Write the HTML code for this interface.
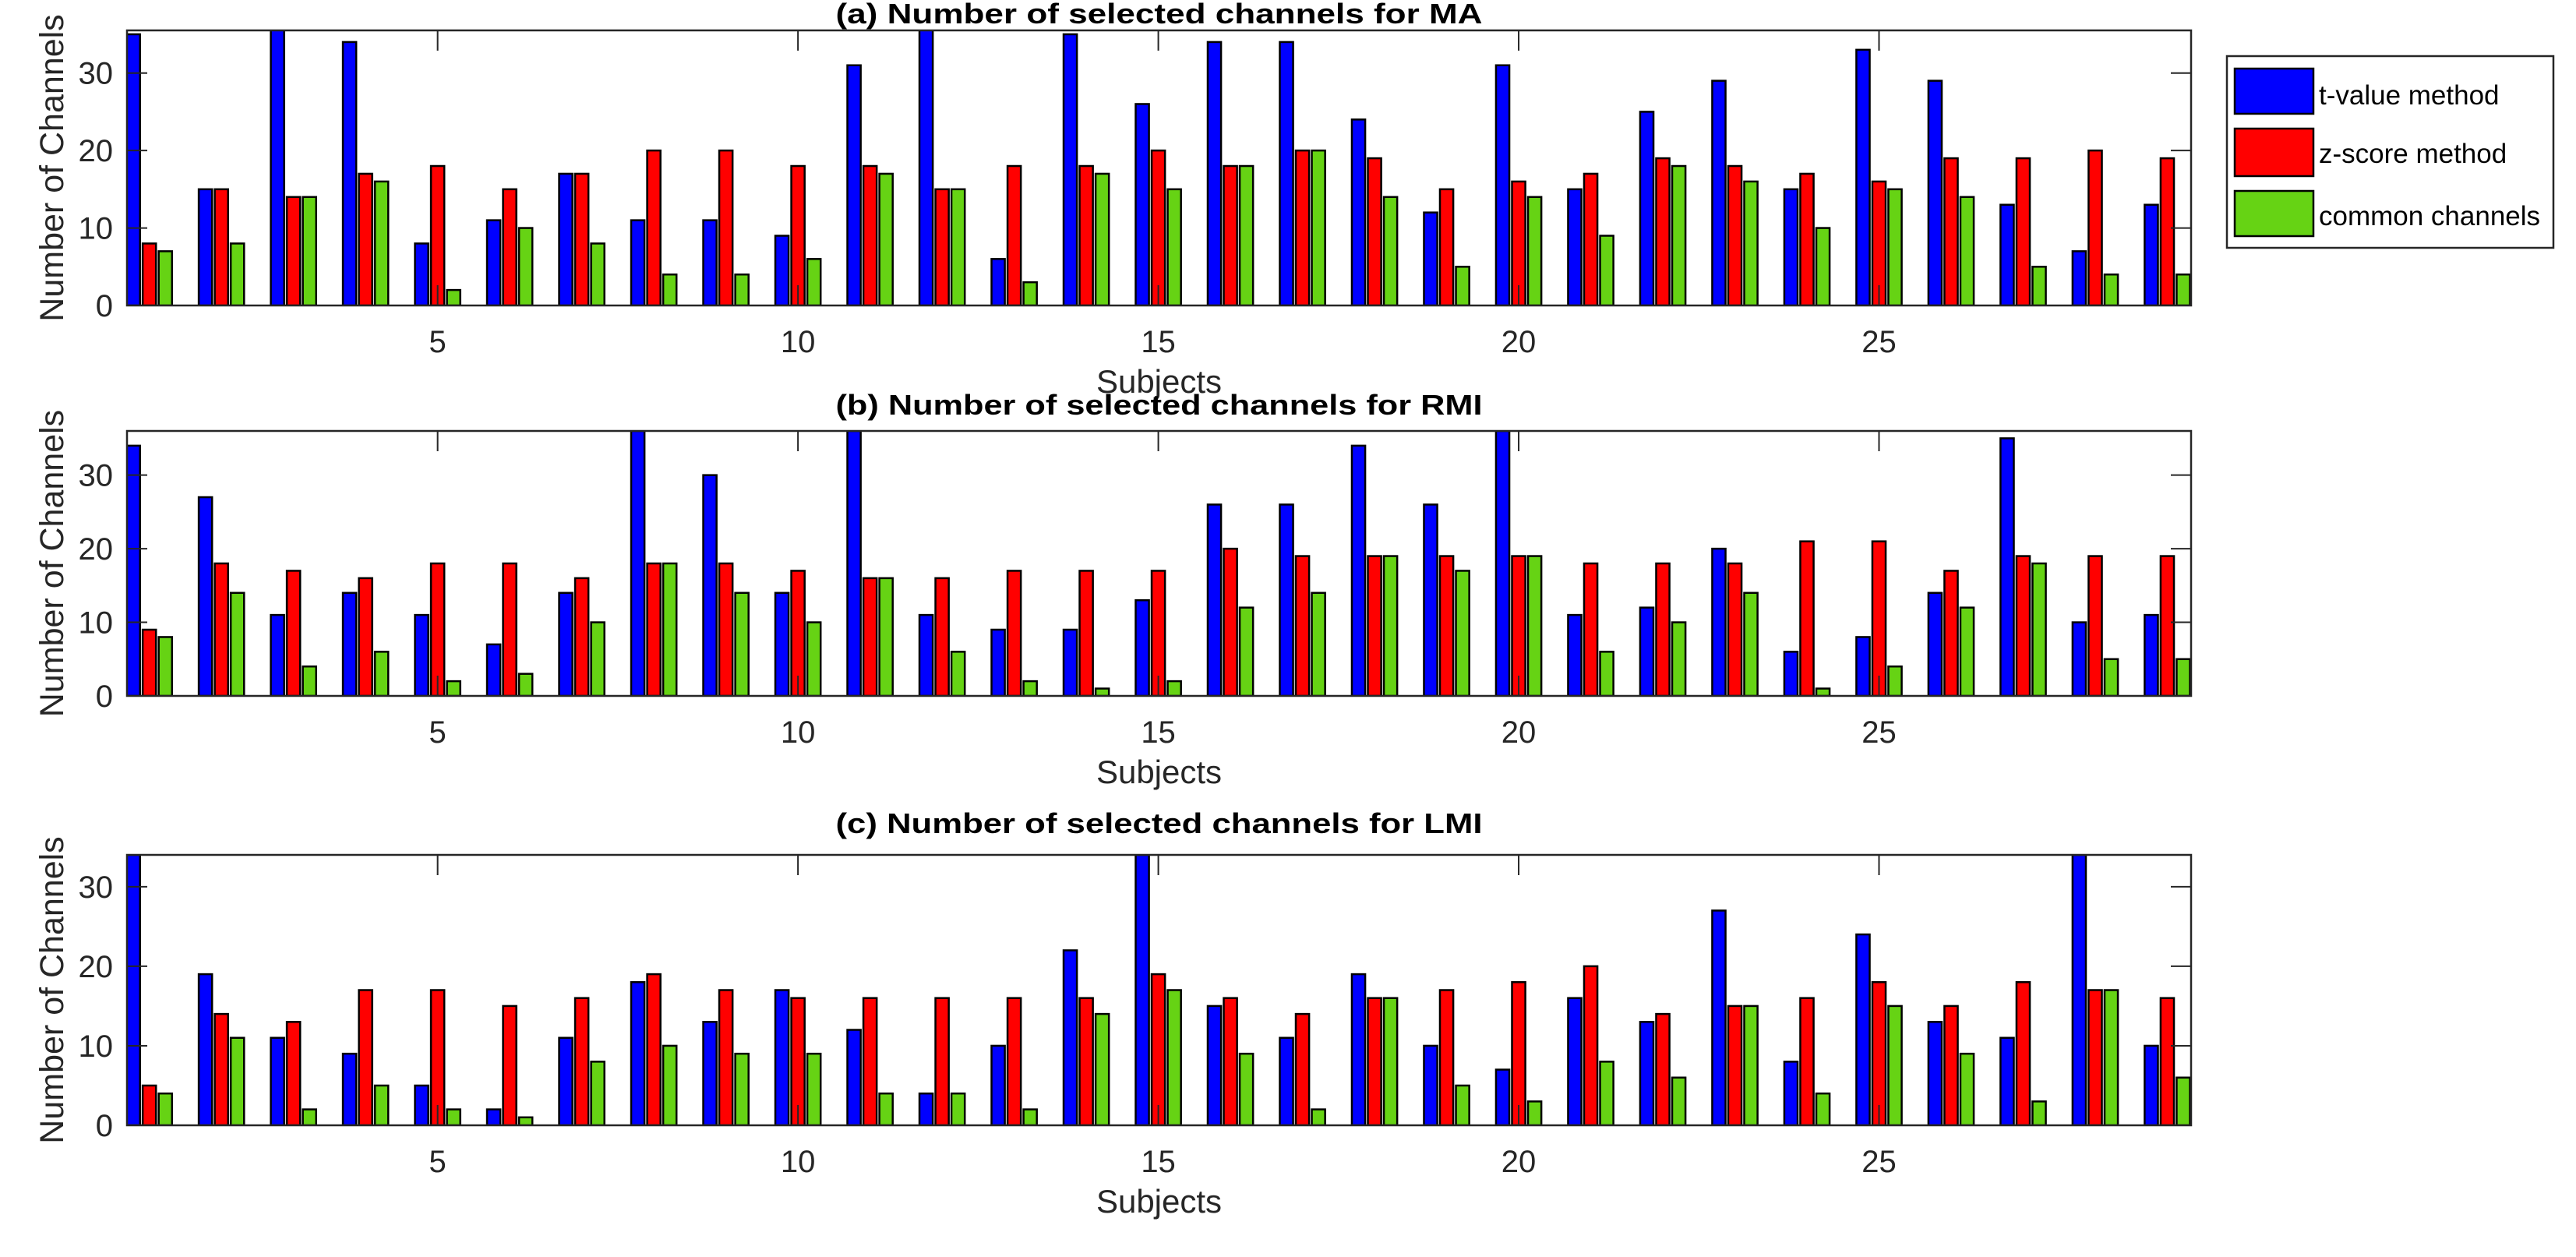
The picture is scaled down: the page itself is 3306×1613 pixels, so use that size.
<!DOCTYPE html>
<html><head><meta charset="utf-8"><style>
html,body{margin:0;padding:0;background:#fff;}
svg{display:block;font-family:"Liberation Sans",Arial,sans-serif;}
</style></head><body>
<svg id="fig" width="3306" height="1613" viewBox="0 0 3306 1613" xmlns="http://www.w3.org/2000/svg">
<rect x="0" y="0" width="3306" height="1613" fill="#fff"/>
<g id="legend">
 <rect x="2858" y="72" width="419" height="246" fill="#fff" stroke="#262626" stroke-width="2.5"/>
 <g>
  <rect x="2868" y="88" width="101" height="58" fill="#0000ff" stroke="#000" stroke-width="2.5"/>
  <text x="2976" y="134" font-size="35" fill="#000">t-value method</text>
 </g>
 <g>
  <rect x="2868" y="165" width="101" height="61" fill="#ff0000" stroke="#000" stroke-width="2.5"/>
  <text x="2976" y="209" font-size="35" fill="#000">z-score method</text>
 </g>
 <g>
  <rect x="2868" y="245" width="101" height="58" fill="#66d314" stroke="#000" stroke-width="2.5"/>
  <text x="2976" y="289" font-size="35" fill="#000">common channels</text>
 </g>
</g>
</svg>
<script>
const subjects = [1,2,3,4,5,6,7,8,9,10,11,12,13,14,15,16,17,18,19,20,21,22,23,24,25,26,27,28,29];
const maT = [35,15,36,34,8,11,17,11,11,9,31,36,6,35,26,34,34,24,12,31,15,25,29,15,33,29,13,7,13];
const maZ = [8,15,14,17,18,15,17,20,20,18,18,15,18,18,20,18,20,19,15,16,17,19,18,17,16,19,19,20,19];
const maC = [7,8,14,16,2,10,8,4,4,6,17,15,3,17,15,18,20,14,5,14,9,18,16,10,15,14,5,4,4];
const rmiT = [34,27,11,14,11,7,14,36,30,14,36,11,9,9,13,26,26,34,26,36,11,12,20,6,8,14,35,10,11];
const rmiZ = [9,18,17,16,18,18,16,18,18,17,16,16,17,17,17,20,19,19,19,19,18,18,18,21,21,17,19,19,19];
const rmiC = [8,14,4,6,2,3,10,18,14,10,16,6,2,1,2,12,14,19,17,19,6,10,14,1,4,12,18,5,5];
const lmiT = [34,19,11,9,5,2,11,18,13,17,12,4,10,22,34,15,11,19,10,7,16,13,27,8,24,13,11,34,10];
const lmiZ = [5,14,13,17,17,15,16,19,17,16,16,16,16,16,19,16,14,16,17,18,20,14,15,16,18,15,18,17,16];
const lmiC = [4,11,2,5,2,1,8,10,9,9,4,4,2,14,17,9,2,16,5,3,8,6,15,4,15,9,3,17,6];
const xTicks = [5,10,15,20,25];
const yTicks = [0,10,20,30];
const seriesColors = ['#0000ff','#ff0000','#66d314'];
const seriesNames = ['t-value','z-score','common'];

const NS = 'http://www.w3.org/2000/svg';
const svg = document.getElementById('fig');
const legend = document.getElementById('legend');
const X0 = 163, X1 = 2812, XMIN = 0.69, XMAX = 29.33;
function xScale(v){ return X0 + (v - XMIN) / (XMAX - XMIN) * (X1 - X0); }
function mk(tag, attrs, parent){
  const e = document.createElementNS(NS, tag);
  for (const k in attrs) e.setAttribute(k, attrs[k]);
  parent.appendChild(e);
  return e;
}
const panels = [
  {key:'ma', title:'(a) Number of selected channels for MA', top:39, bottom:392, ymax:35.5, tY:30, data:[maT,maZ,maC]},
  {key:'rmi', title:'(b) Number of selected channels for RMI', top:553, bottom:893, ymax:36, tY:532, data:[rmiT,rmiZ,rmiC]},
  {key:'lmi', title:'(c) Number of selected channels for LMI', top:1097, bottom:1444, ymax:34, tY:1069, data:[lmiT,lmiZ,lmiC]}
];
const step = (X1 - X0) / (XMAX - XMIN);
const barOff = step * 0.222, barW = step * 0.185;
panels.forEach((p, pi) => {
  const g = mk('g', {}, svg);
  
  
  svg.insertBefore(g, legend);
  const yScale = v => p.bottom - v / p.ymax * (p.bottom - p.top);
  const clipId = 'clip' + pi;
  const cp = mk('clipPath', {id: clipId}, g);
  mk('rect', {x: X0, y: p.top, width: X1 - X0, height: p.bottom - p.top}, cp);
  const bars = mk('g', {'clip-path': 'url(#' + clipId + ')'}, g);
  
  
  p.data.forEach((series, si) => {
    series.forEach((v, i) => {
      const cx = xScale(subjects[i]) + (si - 1) * barOff;
      const y = yScale(v);
      const r = mk('rect', {x: cx - barW / 2, y: y, width: barW, height: yScale(0) - y, fill: seriesColors[si], stroke: '#000', 'stroke-width': 2.5}, bars);
      
      
    });
  });
  xTicks.forEach(t => {
    const x = xScale(t);
    mk('line', {x1: x, x2: x, y1: p.bottom, y2: p.bottom - 26, stroke: '#262626', 'stroke-width': 2}, g);
    mk('line', {x1: x, x2: x, y1: p.top, y2: p.top + 26, stroke: '#262626', 'stroke-width': 2}, g);
    const tl = mk('text', {x: x, y: p.bottom + 60, 'font-size': 40, 'text-anchor': 'middle', fill: '#262626'}, g);
    tl.textContent = t;
    
    
  });
  yTicks.forEach(t => {
    const y = yScale(t);
    mk('line', {x1: X0, x2: X0 + 26, y1: y, y2: y, stroke: '#262626', 'stroke-width': 2}, g);
    mk('line', {x1: X1, x2: X1 - 26, y1: y, y2: y, stroke: '#262626', 'stroke-width': 2}, g);
    const tl = mk('text', {x: X0 - 18, y: y + 14, 'font-size': 40, 'text-anchor': 'end', fill: '#262626'}, g);
    tl.textContent = t;
    
    
  });
  const box = mk('rect', {x: X0, y: p.top, width: X1 - X0, height: p.bottom - p.top, fill: 'none', stroke: '#262626', 'stroke-width': 2.5}, g);
  
  
  const tt = mk('text', {x: (X0 + X1) / 2, y: p.tY, 'font-size': 36, 'font-weight': 'bold', 'text-anchor': 'middle', fill: '#000', textLength: 830, lengthAdjust: 'spacingAndGlyphs'}, g);
  tt.textContent = p.title;
  
  
  const xl = mk('text', {x: (X0 + X1) / 2, y: p.bottom + 112, 'font-size': 42, 'text-anchor': 'middle', fill: '#262626'}, g);
  xl.textContent = 'Subjects';
  
  
  const cy = (p.top + p.bottom) / 2;
  const yl = mk('text', {x: 0, y: 0, 'font-size': 43, 'text-anchor': 'middle', fill: '#262626', transform: 'translate(81,' + cy + ') rotate(-90)'}, g);
  yl.textContent = 'Number of Channels';
  
  
});
</script>
</body></html>
